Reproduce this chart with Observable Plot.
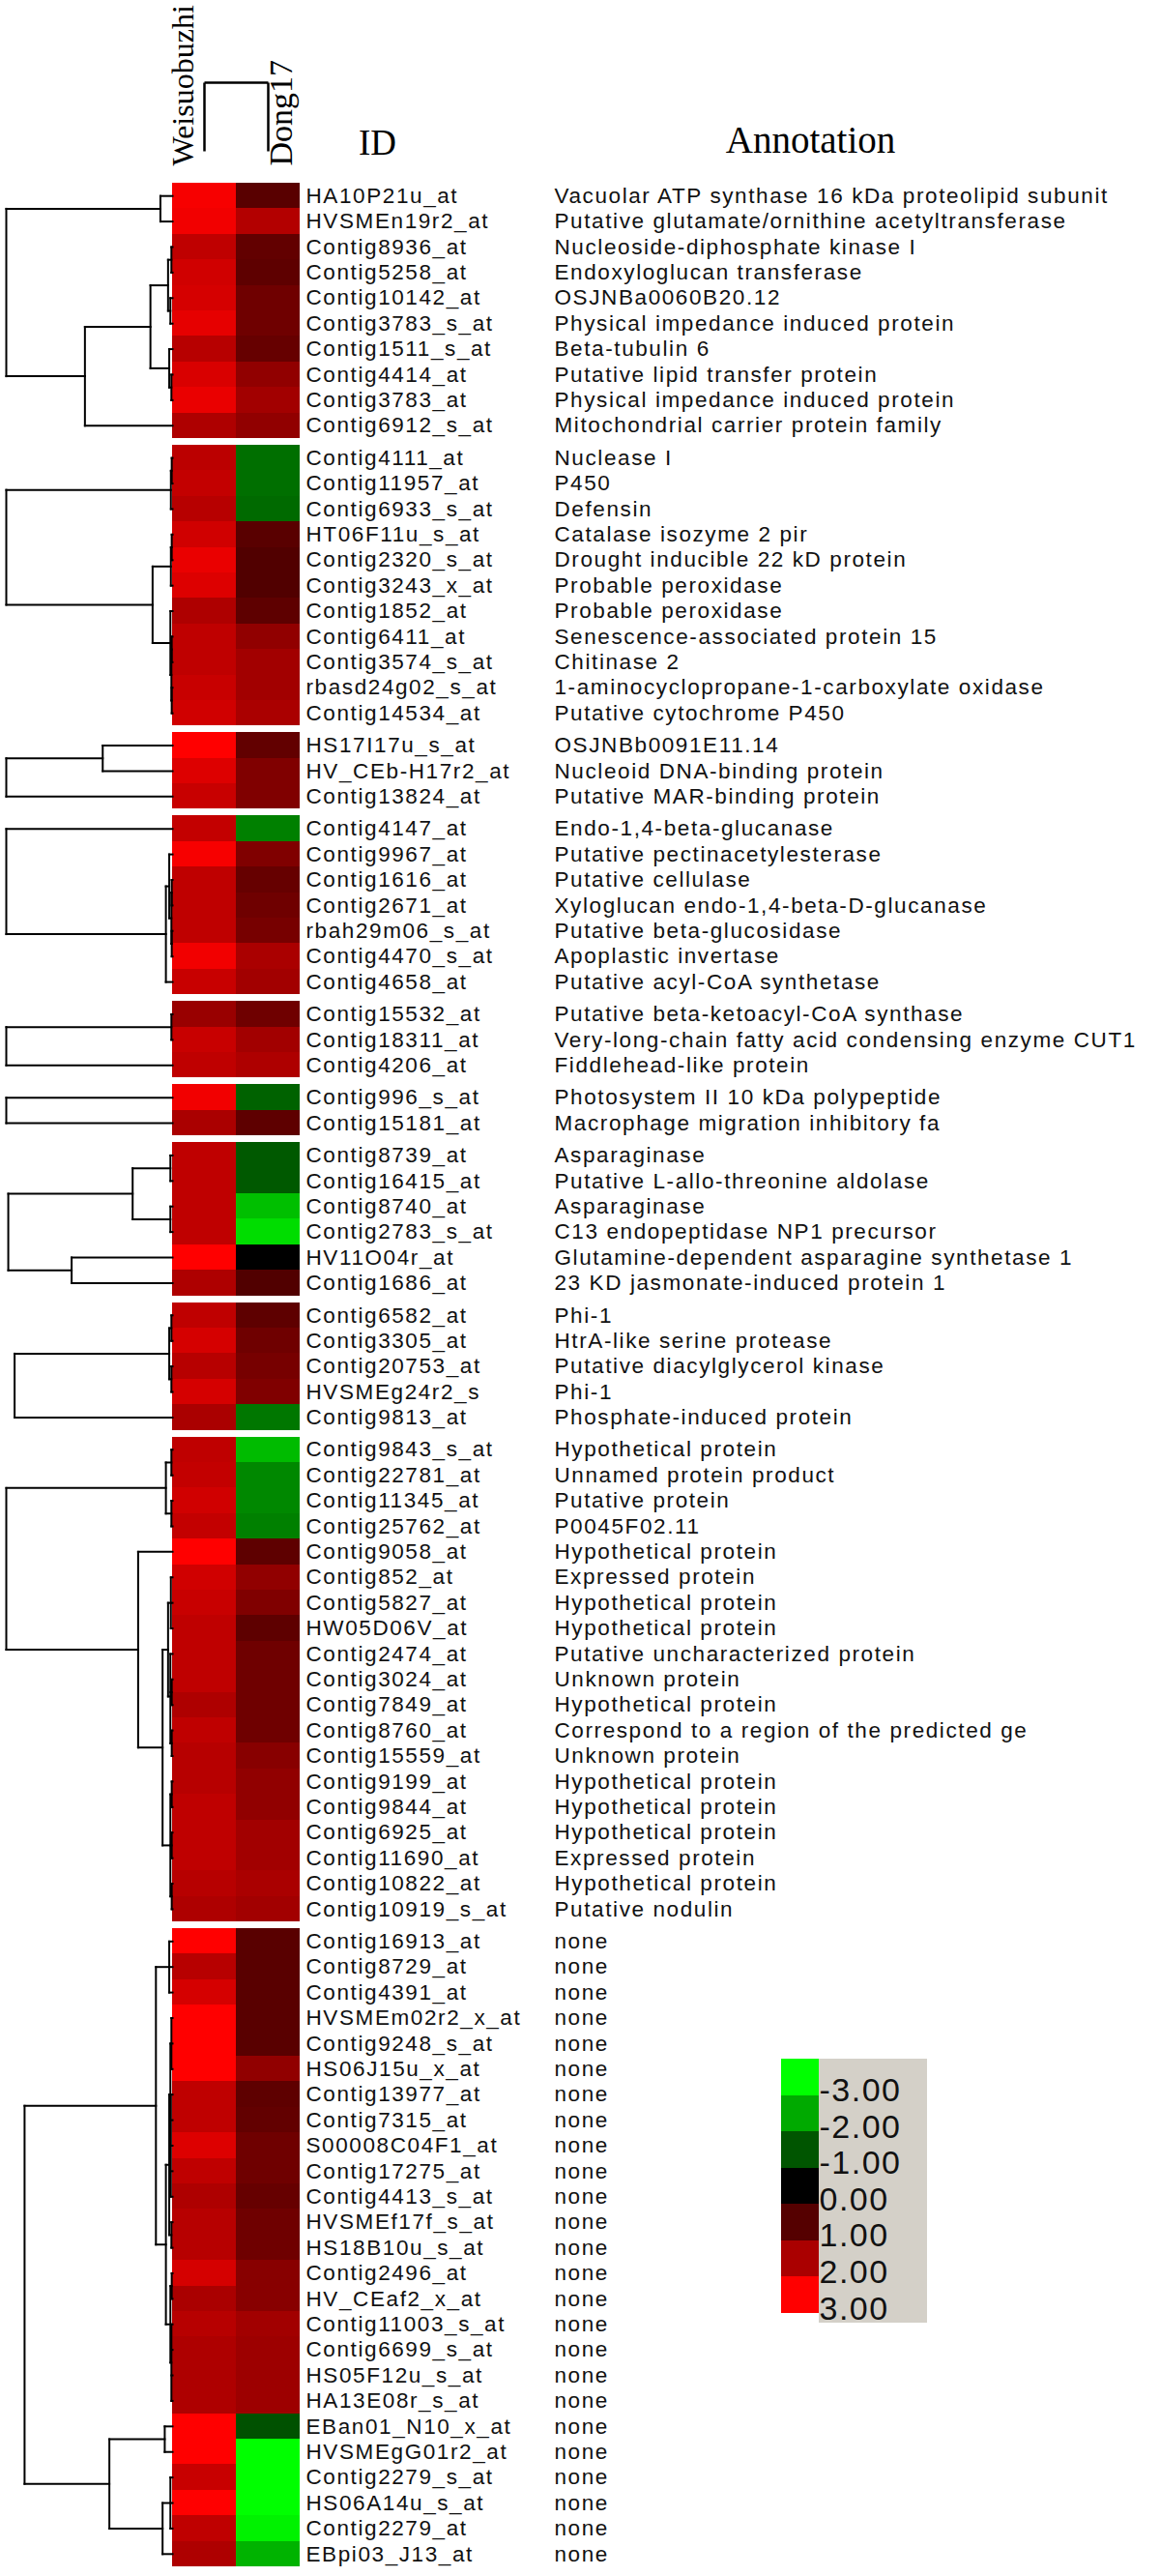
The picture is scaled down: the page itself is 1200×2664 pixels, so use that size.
<!DOCTYPE html>
<html><head><meta charset="utf-8">
<script src="https://cdn.jsdelivr.net/npm/d3@7"></script>
<script src="https://cdn.jsdelivr.net/npm/@observablehq/plot@0.6"></script>
<style>
body{margin:0;background:#fff;}
#wrap{position:relative;width:1200px;height:2664px;overflow:hidden;background:#fff;}
.layer{position:absolute;}
.rowtext text{letter-spacing:1.6px;}
.legtext text{letter-spacing:1.5px;}
</style></head><body><div id="wrap"></div>
<script>
const samples = ["Weisuobuzhi", "Dong17"];
const blockSizes = [10, 11, 3, 7, 3, 2, 6, 5, 19, 25];
const ids = [
"HA10P21u_at","HVSMEn19r2_at","Contig8936_at","Contig5258_at","Contig10142_at","Contig3783_s_at","Contig1511_s_at","Contig4414_at","Contig3783_at","Contig6912_s_at",
"Contig4111_at","Contig11957_at","Contig6933_s_at","HT06F11u_s_at","Contig2320_s_at","Contig3243_x_at","Contig1852_at","Contig6411_at","Contig3574_s_at","rbasd24g02_s_at","Contig14534_at",
"HS17I17u_s_at","HV_CEb-H17r2_at","Contig13824_at",
"Contig4147_at","Contig9967_at","Contig1616_at","Contig2671_at","rbah29m06_s_at","Contig4470_s_at","Contig4658_at",
"Contig15532_at","Contig18311_at","Contig4206_at",
"Contig996_s_at","Contig15181_at",
"Contig8739_at","Contig16415_at","Contig8740_at","Contig2783_s_at","HV11O04r_at","Contig1686_at",
"Contig6582_at","Contig3305_at","Contig20753_at","HVSMEg24r2_s","Contig9813_at",
"Contig9843_s_at","Contig22781_at","Contig11345_at","Contig25762_at","Contig9058_at","Contig852_at","Contig5827_at","HW05D06V_at","Contig2474_at","Contig3024_at","Contig7849_at","Contig8760_at","Contig15559_at","Contig9199_at","Contig9844_at","Contig6925_at","Contig11690_at","Contig10822_at","Contig10919_s_at",
"Contig16913_at","Contig8729_at","Contig4391_at","HVSMEm02r2_x_at","Contig9248_s_at","HS06J15u_x_at","Contig13977_at","Contig7315_at","S00008C04F1_at","Contig17275_at","Contig4413_s_at","HVSMEf17f_s_at","HS18B10u_s_at","Contig2496_at","HV_CEaf2_x_at","Contig11003_s_at","Contig6699_s_at","HS05F12u_s_at","HA13E08r_s_at","EBan01_N10_x_at","HVSMEgG01r2_at","Contig2279_s_at","HS06A14u_s_at","Contig2279_at","EBpi03_J13_at"
];
const annotations = [
"Vacuolar ATP synthase 16 kDa proteolipid subunit","Putative glutamate/ornithine acetyltransferase","Nucleoside-diphosphate kinase I","Endoxyloglucan transferase","OSJNBa0060B20.12","Physical impedance induced protein","Beta-tubulin 6","Putative lipid transfer protein","Physical impedance induced protein","Mitochondrial carrier protein family",
"Nuclease I","P450","Defensin","Catalase isozyme 2 pir","Drought inducible 22 kD protein","Probable peroxidase","Probable peroxidase","Senescence-associated protein 15","Chitinase 2","1-aminocyclopropane-1-carboxylate oxidase","Putative cytochrome P450",
"OSJNBb0091E11.14","Nucleoid DNA-binding protein","Putative MAR-binding protein",
"Endo-1,4-beta-glucanase","Putative pectinacetylesterase","Putative cellulase","Xyloglucan endo-1,4-beta-D-glucanase","Putative beta-glucosidase","Apoplastic invertase","Putative acyl-CoA synthetase",
"Putative beta-ketoacyl-CoA synthase","Very-long-chain fatty acid condensing enzyme CUT1","Fiddlehead-like protein",
"Photosystem II 10 kDa polypeptide","Macrophage migration inhibitory fa",
"Asparaginase","Putative L-allo-threonine aldolase","Asparaginase","C13 endopeptidase NP1 precursor","Glutamine-dependent asparagine synthetase 1","23 KD jasmonate-induced protein 1",
"Phi-1","HtrA-like serine protease","Putative diacylglycerol kinase","Phi-1","Phosphate-induced protein",
"Hypothetical protein","Unnamed protein product","Putative protein","P0045F02.11","Hypothetical protein","Expressed protein","Hypothetical protein","Hypothetical protein","Putative uncharacterized protein","Unknown protein","Hypothetical protein","Correspond to a region of the predicted ge","Unknown protein","Hypothetical protein","Hypothetical protein","Hypothetical protein","Expressed protein","Hypothetical protein","Putative nodulin",
"none","none","none","none","none","none","none","none","none","none","none","none","none","none","none","none","none","none","none","none","none","none","none","none","none"
];
const weisuobuzhi = [
2.9,2.85,2.25,2.45,2.5,2.7,2.15,2.55,2.75,2.05,
2.2,2.3,2.15,2.45,2.75,2.6,2.05,2.25,2.25,2.35,2.45,
3.0,2.6,2.35,
2.3,2.9,2.25,2.25,2.25,2.85,2.35,
1.8,2.35,2.25,
2.85,2.0,
2.25,2.25,2.25,2.25,3.0,2.05,
2.25,2.5,2.15,2.5,2.0,
2.25,2.3,2.45,2.3,3.0,2.45,2.35,2.25,2.25,2.25,2.05,2.25,2.15,2.15,2.25,2.25,2.25,2.15,2.05,
3.0,2.15,2.5,3.0,3.0,3.0,2.25,2.25,2.6,2.25,2.05,2.15,2.15,2.5,2.0,2.15,2.05,2.05,2.05,3.0,3.0,2.35,3.0,2.25,2.05
];
const dong17 = [
1.05,2.1,1.15,1.1,1.3,1.3,1.2,1.7,1.9,1.7,
-1.3,-1.3,-1.25,1.05,0.95,0.95,1.1,1.7,1.9,1.9,2.0,
1.15,1.5,1.5,
-1.5,1.5,1.2,1.3,1.4,2.0,1.9,
1.3,1.9,2.05,
-1.15,1.1,
-1.05,-1.05,-2.25,-2.6,0.0,0.95,
1.1,1.3,1.4,1.5,-1.4,
-2.2,-1.6,-1.6,-1.5,1.1,1.7,1.5,1.1,1.3,1.3,1.3,1.3,1.6,1.7,1.7,1.9,1.9,2.0,1.9,
1.05,1.05,1.05,1.05,1.05,1.7,1.1,1.15,1.3,1.3,1.2,1.3,1.3,1.6,1.6,1.9,1.85,1.85,1.85,-0.95,-3.0,-3.0,-3.0,-2.85,-2.1
];
// row dendrograms per block: [height, child, child, ...]; a number is a leaf (row index within block)
const rowTrees = [
  [1.0, [0.073, 0, 1], [0.527, [0.133, [0.027, [0.007, 2, 3], [0.013, 4, 5]], [0.02, 6, [0.007, 7, 8]]], 9]],
  [1.0, [0.01, [0.005, 0, 1], 2], [0.12, [0.01, [0.005, 3, 4], 5], [0.013, 6, [0.007, [0.005, 7, 8], [0.005, 9, 10]]]]],
  [1.0, [0.42, 0, 1], 2],
  [1.0, 0, [0.04, [0.02, 1, [0.007, [0.005, 2, 3], [0.005, 4, 5]]], 6]],
  [1.0, [0.007, 0, 1], 2],
  [1.0, 0, 1],
  [0.988, [0.24, [0.013, 0, 1], [0.013, 2, 3]], [0.607, 4, 5]],
  [0.95, [0.02, [0.007, 0, 1], [0.007, 2, 3]], 4],
  [1.0, [0.04, [0.007, 0, 1], [0.007, 2, 3]], [0.207, 4, [0.06, [0.027, [0.01, 5, 6, 7], [0.013, 8, [0.005, 9, 10], [0.005, 11, 12]]], [0.013, [0.005, 13, 14], [0.005, 15, 16], [0.005, 17, 18]]]]],
  [0.89, [0.1, [0.02, 0, 1, 2], [0.04, [0.02, [0.013, [0.007, 3, 4, 5], [0.01, 6, 7, 8, 9, 10]], [0.007, 11, 12]], [0.013, [0.005, 13, 14], [0.007, 15, 16, 17, 18]]]], [0.38, [0.047, 19, 20], [0.06, [0.013, 21, 22, 23], 24]]]
];
const colTree = [1.0, 0, 1];
const legendValues = [-3, -2, -1, 0, 1, 2, 3];

// ---------- derived tables ----------
const GAP = 0.265;
const rows = [];
const blockStart = [];
let gi = 0;
blockSizes.forEach((n, b) => {
  blockStart.push(gi);
  for (let i = 0; i < n; i++) {
    const top = gi + b * GAP;
    rows.push({top, bottom: top + 1, mid: top + 0.5, id: ids[gi], ann: annotations[gi]});
    gi++;
  }
});
const total = gi + (blockSizes.length - 1) * GAP;
const cells = [];
rows.forEach((r, i) => {
  cells.push({s: 0, v: weisuobuzhi[i], top: r.top, bottom: r.bottom});
  cells.push({s: 1, v: dong17[i], top: r.top, bottom: r.bottom});
});

function walk(node, leafPos, segs) {
  if (typeof node === "number") return {p: leafPos(node), h: 0};
  const [h, ...kids] = node;
  const ks = kids.map(k => walk(k, leafPos, segs));
  for (const k of ks) segs.push({h1: k.h, h2: h, p1: k.p, p2: k.p});
  const ps = ks.map(k => k.p);
  segs.push({h1: h, h2: h, p1: d3.min(ps), p2: d3.max(ps)});
  return {p: d3.mean(ps), h};
}
const rowSegs = [];
rowTrees.forEach((t, b) => walk(t, leaf => rows[blockStart[b] + leaf].mid, rowSegs));
const colSegs = [];
walk(colTree, leaf => leaf + 0.5, colSegs);

const colorOpts = {type: "linear", domain: [-3, 0, 3], range: ["#00ff00", "#000000", "#ff0000"], interpolate: "rgb", clamp: true};
const W = 1200, H = 2664, TOP = 189, BOTTOM = 2654;
const HM_L = 178, HM_R = 310;
const yOpts = {domain: [0, total], reverse: true, axis: null};
const SANS = "Liberation Sans, Arial, sans-serif";
const SERIF = "Liberation Serif, Times New Roman, serif";

const wrap = document.getElementById("wrap");
function place(el, left, top, cls) {
  el.classList.add("layer");
  if (cls) el.classList.add(cls);
  el.style.left = left + "px"; el.style.top = top + "px";
  wrap.appendChild(el);
}

// heatmap + labels
const main = Plot.plot({
  width: W, height: H,
  marginLeft: HM_L, marginRight: W - HM_R, marginTop: TOP, marginBottom: H - BOTTOM,
  x: {domain: [0, 2], axis: null},
  y: yOpts,
  color: colorOpts,
  style: {background: "transparent"},
  marks: [
    Plot.rect(cells, {x1: d => d.s, x2: d => d.s + 1, y1: "top", y2: "bottom", fill: "v", shapeRendering: "crispEdges"}),
    Plot.text(rows, {y: "mid", text: "id", frameAnchor: "right", dx: 6, textAnchor: "start", fontSize: 22.5, fontFamily: SANS, fill: "#111"}),
    Plot.text(rows, {y: "mid", text: "ann", frameAnchor: "right", dx: 263, textAnchor: "start", fontSize: 22.5, fontFamily: SANS, fill: "#111"})
  ]
});
place(main, 0, 0, "rowtext");

// row dendrogram
const dendro = Plot.plot({
  width: 182, height: H,
  marginLeft: 6, marginRight: 182 - HM_L, marginTop: TOP, marginBottom: H - BOTTOM,
  x: {domain: [1, 0], axis: null},
  y: yOpts,
  style: {background: "transparent"},
  marks: [
    Plot.link(rowSegs, {x1: "h1", x2: "h2", y1: "p1", y2: "p2", stroke: "#000", strokeWidth: 2, strokeLinecap: "square"})
  ]
});
place(dendro, 0, 0);

// column dendrogram + headers
const head = Plot.plot({
  width: W, height: 200,
  marginLeft: HM_L, marginRight: W - HM_R, marginTop: 85, marginBottom: 44,
  x: {domain: [0, 2], axis: null},
  y: {domain: [0, 1], axis: null},
  style: {background: "transparent"},
  marks: [
    Plot.link(colSegs, {x1: "p1", x2: "p2", y1: "h1", y2: "h2", stroke: "#000", strokeWidth: 2.5}),
    Plot.text(samples.slice(0, 1), {x: 0.5, text: d => d, rotate: -90, textAnchor: "start", lineAnchor: "bottom", frameAnchor: "bottom", dx: -12, dy: 15, fontSize: 32, fontFamily: SERIF, fill: "#000"}),
    Plot.text(samples.slice(1), {x: 1.5, text: d => d, rotate: -90, textAnchor: "start", lineAnchor: "bottom", frameAnchor: "bottom", dx: 24, dy: 15, fontSize: 34, fontFamily: SERIF, fill: "#000"}),
    Plot.text(["ID"], {frameAnchor: "bottom-right", text: d => d, dx: 80, dy: 3, textAnchor: "middle", lineAnchor: "bottom", fontSize: 37, fontFamily: SERIF, fill: "#000"}),
    Plot.text(["Annotation"], {frameAnchor: "bottom-right", text: d => d, dx: 528, dy: 1, textAnchor: "middle", lineAnchor: "bottom", fontSize: 39, fontFamily: SERIF, fill: "#000"})
  ]
});
place(head, 0, 0);

// legend
const gray = document.createElement("div");
gray.style.cssText = "position:absolute;left:847px;top:2129px;width:112px;height:273px;background:#d4d0c8;";
wrap.appendChild(gray);
const legend = Plot.plot({
  width: 152, height: 280,
  marginLeft: 0, marginRight: 113, marginTop: 0, marginBottom: 17,
  x: {domain: [0, 1], axis: null},
  y: {domain: [-3.5, 3.5], reverse: true, axis: null},
  color: colorOpts,
  style: {background: "transparent"},
  marks: [
    Plot.rect(legendValues, {x1: 0, x2: 1, y1: d => d - 0.5, y2: d => d + 0.5, fill: d => d, shapeRendering: "crispEdges"}),
    Plot.text(legendValues, {y: d => d, text: d => d.toFixed(2), frameAnchor: "right", textAnchor: "start", dy: 14, fontSize: 34, fontFamily: SANS, fill: "#111"})
  ]
});
place(legend, 808, 2129, "legtext");
</script></body></html>
